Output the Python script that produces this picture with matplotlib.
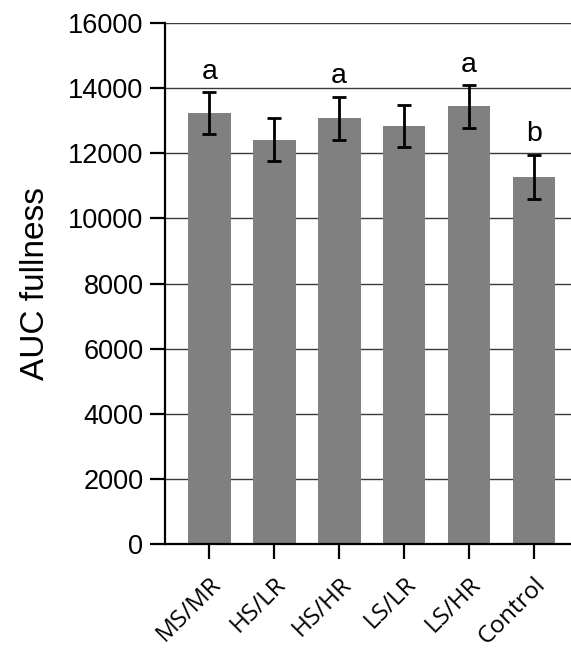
import matplotlib
matplotlib.use('Agg')
from matplotlib import pyplot as plt
from matplotlib import transforms

groups = ['MS/MR', 'HS/LR', 'HS/HR', 'LS/LR', 'LS/HR', 'Control']
auc = [13240, 12420, 13080, 12840, 13440, 11280]
sem = [650, 660, 660, 650, 650, 680]
letters = ['a', '', 'a', '', 'a', 'b']
yticks = [0, 2000, 4000, 6000, 8000, 10000, 12000, 14000, 16000]


def main():
    fig = plt.figure(figsize=(5.71, 6.48), dpi=100)
    ax = fig.add_axes([0.289, 0.1605, 0.711, 0.804])

    x = list(range(len(groups)))
    ax.bar(x, auc, width=0.66, color='#808080', zorder=2)
    ax.errorbar(x, auc, yerr=sem, fmt='none', ecolor='black', elinewidth=2,
                capsize=4.7, capthick=2, zorder=3)
    for xi, v, e, t in zip(x, auc, sem, letters):
        if t:
            ax.text(xi, v + e + 220, t, ha='center', va='bottom',
                    fontsize=20.5, family='Liberation Sans')

    ax.set_ylim(0, 16000)
    ax.set_xlim(-0.68, 5.57)
    ax.set_yticks(yticks)
    ax.set_yticklabels([str(t) for t in yticks], family='Liberation Sans', fontsize=19.5)
    ax.set_xticks(x)
    ax.set_xticklabels(groups, rotation=45, ha='right', va='top',
                       rotation_mode='anchor', fontsize=17.5, family='Open Sans')
    # nudge the rotated labels a little to the right
    shift = transforms.ScaledTranslation(0.06, 0, fig.dpi_scale_trans)
    for lab in ax.get_xticklabels():
        lab.set_transform(lab.get_transform() + shift)

    ax.yaxis.grid(True, color='#3a3a3a', linewidth=1, zorder=1)
    ax.set_axisbelow(True)
    ax.tick_params(axis='both', length=10.5, width=1.6, direction='out')
    ax.tick_params(axis='y', pad=5)
    ax.tick_params(axis='x', pad=10)
    for s in ['top', 'right']:
        ax.spines[s].set_visible(False)
    for s in ['left', 'bottom']:
        ax.spines[s].set_linewidth(1.6)
    ax.set_ylabel('AUC fullness', family='Liberation Sans', fontsize=24, labelpad=12)

    fig.savefig('out.png', dpi=100)


if __name__ == '__main__':
    main()
